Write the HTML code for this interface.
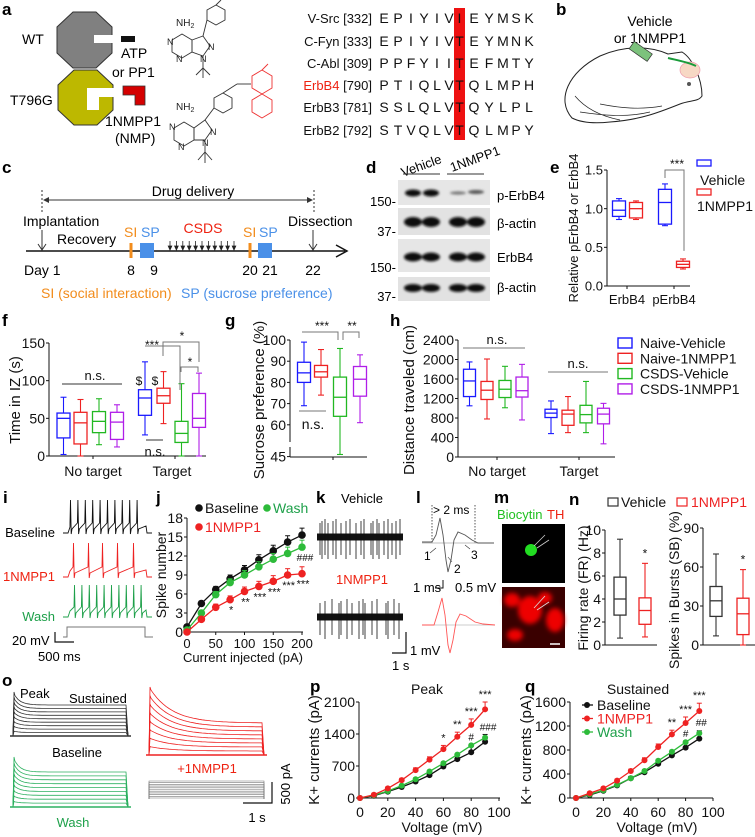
<!DOCTYPE html>
<html><head><meta charset="utf-8">
<style>
html,body{margin:0;padding:0;background:#fff;}
svg{display:block;font-family:"Liberation Sans",Arial,sans-serif;}
</style></head>
<body>
<svg id="fig" width="755" height="837" viewBox="0 0 755 837" xmlns="http://www.w3.org/2000/svg">
<defs>
<filter id="blur1" x="-20%" y="-50%" width="140%" height="200%"><feGaussianBlur stdDeviation="1.3"/></filter>
<filter id="blur2"><feGaussianBlur stdDeviation="2.5"/></filter>
</defs>
<g font-weight="bold" font-size="17">
<text x="2" y="15">a</text>
<text x="556" y="15">b</text>
<text x="2" y="173">c</text>
<text x="366" y="173">d</text>
<text x="550" y="173">e</text>
<text x="2" y="326">f</text>
<text x="225" y="326">g</text>
<text x="390" y="326">h</text>
<text x="3" y="503">i</text>
<text x="156" y="503">j</text>
<text x="316" y="503">k</text>
<text x="416" y="503">l</text>
<text x="494" y="503">m</text>
<text x="569" y="505">n</text>
<text x="2" y="686">o</text>
<text x="310" y="692">p</text>
<text x="525" y="692">q</text>
</g>

<!-- Panel a -->
<g font-size="14">
<text x="22" y="44">WT</text>
<polygon points="73,12 96,12 112,27 112,53 96,68 73,68 57,53 57,27" fill="#808080" stroke="#333" stroke-width="1"/>
<rect x="94" y="35" width="19" height="8" fill="#fff"/>
<rect x="121" y="36" width="14" height="6" fill="#111"/>
<text x="121" y="58">ATP</text>
<text x="112" y="77">or PP1</text>
<text x="10" y="105">T796G</text>
<polygon points="74,70 97,70 113,85 113,110 97,125 74,125 58,110 58,85" fill="#bdb800" stroke="#333" stroke-width="1"/>
<polygon points="87,88 114,88 114,97 99,97 99,110 87,110" fill="#fff"/>
<polygon points="123,86 145,86 145,105 135,105 135,95 123,95" fill="#d40000" stroke="#333" stroke-width="0.8"/>
<text x="105" y="126">1NMPP1</text>
<text x="115" y="143">(NMP)</text>
</g>
<g fill="none" stroke="#333" stroke-width="0.9">
<polygon points="216,5 225,10 225,20 216,25 207,20 207,10"/>
<line x1="216" y1="5" x2="221" y2="0"/>
<line x1="207" y1="20" x2="203" y2="36"/>
<polygon points="182,34 192,40 192,52 182,58 172,52 172,40"/>
<polygon points="192,40 203,36 210,46 203,56 192,52"/>
<line x1="203" y1="56" x2="203" y2="68"/><line x1="203" y1="68" x2="196" y2="75"/><line x1="203" y1="68" x2="210" y2="75"/><line x1="203" y1="68" x2="203" y2="78"/>
<polygon points="223,93 232,98 232,108 223,113 214,108 214,98"/>
<line x1="223" y1="93" x2="237" y2="84"/><line x1="237" y1="84" x2="251" y2="84"/>
<line x1="214" y1="108" x2="205" y2="120"/>
<polygon points="184,122 194,128 194,140 184,146 174,140 174,128"/>
<polygon points="194,128 205,120 212,130 205,140 194,140"/>
<line x1="205" y1="140" x2="205" y2="152"/><line x1="205" y1="152" x2="198" y2="160"/><line x1="205" y1="152" x2="212" y2="160"/><line x1="205" y1="152" x2="205" y2="163"/>
<g stroke="#e33">
<polygon points="262,70 272,76 272,88 262,94 252,88 252,76"/>
<polygon points="262,94 272,100 272,112 262,118 252,112 252,100"/>
<line x1="262" y1="70" x2="268" y2="64"/>
</g>
</g>
<g font-size="10" fill="#222">
<text x="176" y="26">NH<tspan font-size="7" dy="2">2</tspan></text>
<text x="176" y="110">NH<tspan font-size="7" dy="2">2</tspan></text>
<text x="167" y="45" font-size="9">N</text><text x="176" y="62" font-size="9">N</text><text x="208" y="50" font-size="9">N</text><text x="200" y="62" font-size="9">N</text>
<text x="169" y="130" font-size="9">N</text><text x="178" y="150" font-size="9">N</text><text x="210" y="135" font-size="9">N</text><text x="202" y="146" font-size="9">N</text>
</g>
<rect x="454" y="8" width="11" height="132" fill="#ee1111"/>
<g id="seq" font-size="14"></g>

<!-- Panel b -->
<g>
<text x="650" y="26" font-size="14" text-anchor="middle">Vehicle</text>
<text x="650" y="43" font-size="14" text-anchor="middle">or 1NMPP1</text>
<path d="M572,118 C556,100 568,72 600,56 C625,45 650,46 668,54 L682,52 C692,58 702,78 702,96 C698,102 690,100 680,104 C660,112 640,120 610,122 C592,124 580,122 572,118 Z" fill="none" stroke="#222" stroke-width="1"/>
<path d="M580,112 C600,115 625,118 650,112 M600,104 C620,108 640,110 662,106 M575,96 C585,108 600,116 620,120" fill="none" stroke="#222" stroke-width="0.7"/>
<rect x="630" y="47" width="22" height="9" transform="rotate(35 641 51)" fill="#7cc27c" stroke="#333" stroke-width="0.7"/>
<ellipse cx="690" cy="70" rx="10" ry="8" fill="#f7d8c4" stroke="#e9a" stroke-width="0.7"/>
<path d="M668,58 C676,60 688,62 696,66" stroke="#1a9b3a" stroke-width="2" fill="none"/>
<circle cx="689" cy="84" r="2" fill="#555"/>
</g>

<!-- Panel c -->
<g font-size="14">
<line x1="42" y1="190" x2="42" y2="212" stroke="#333" stroke-dasharray="2,2"/>
<line x1="314" y1="190" x2="314" y2="212" stroke="#333" stroke-dasharray="2,2"/>
<line x1="45" y1="200" x2="311" y2="200" stroke="#333" stroke-width="1"/>
<polygon points="43,200 49,197 49,203" fill="#333"/><polygon points="313,200 307,197 307,203" fill="#333"/>
<text x="193" y="196" text-anchor="middle">Drug delivery</text>
<text x="23" y="226">Implantation</text>
<text x="57" y="244">Recovery</text>
<text x="288" y="226">Dissection</text>
<line x1="42" y1="230" x2="42" y2="249" stroke="#333"/><path d="M38,244 L42,250 L46,244" fill="none" stroke="#333"/>
<line x1="313" y1="230" x2="313" y2="249" stroke="#333"/><path d="M309,244 L313,250 L317,244" fill="none" stroke="#333"/>
<line x1="26" y1="251" x2="345" y2="251" stroke="#111" stroke-width="1.5"/>
<path d="M336,245 L347,251 L336,257" fill="none" stroke="#111" stroke-width="1.5"/>
<rect x="129.5" y="243" width="3" height="15" fill="#f28c1c"/>
<rect x="140" y="243" width="14" height="15" fill="#4a90e8"/>
<rect x="248.5" y="243" width="3" height="15" fill="#f28c1c"/>
<rect x="258" y="243" width="14" height="15" fill="#4a90e8"/>
<text x="124" y="237" fill="#f28c1c">SI</text><text x="141" y="237" fill="#4a90e8">SP</text>
<text x="243" y="237" fill="#f28c1c">SI</text><text x="259" y="237" fill="#4a90e8">SP</text>
<text x="203" y="233" text-anchor="middle" fill="#e21">CSDS</text>
<g id="csdsArrows" stroke="#222" stroke-width="0.8" fill="#222"></g>
<text x="24" y="275">Day 1</text>
<text x="131" y="275" text-anchor="middle">8</text><text x="154" y="275" text-anchor="middle">9</text>
<text x="250" y="275" text-anchor="middle">20</text><text x="270" y="275" text-anchor="middle">21</text><text x="313" y="275" text-anchor="middle">22</text>
<text x="41" y="298" fill="#f28c1c">SI (social interaction)</text>
<text x="181" y="298" fill="#4a90e8">SP (sucrose preference)</text>
</g>

<!-- Panel d -->
<g font-size="13">
<text x="403" y="177" transform="rotate(-20 403 177)">Vehicle</text>
<text x="452" y="172" transform="rotate(-20 452 172)">1NMPP1</text>
<line x1="403" y1="174" x2="440" y2="174" stroke="#333"/><line x1="447" y1="174" x2="484" y2="174" stroke="#333"/>
<rect x="398" y="180" width="92" height="25" fill="#e6e6e6"/>
<rect x="398" y="208" width="92" height="27" fill="#e2e2e2"/>
<rect x="398" y="239" width="92" height="33" fill="#e6e6e6"/>
<rect x="398" y="277" width="92" height="24" fill="#e2e2e2"/>
<g fill="#111" filter="url(#blur1)">
<ellipse cx="413" cy="193" rx="8" ry="3.5"/><ellipse cx="431" cy="193" rx="8" ry="3.5"/>
<ellipse cx="458" cy="193" rx="8" ry="1.6" fill="#777"/><ellipse cx="476" cy="192" rx="8" ry="2" fill="#555"/>
<ellipse cx="413" cy="222" rx="9" ry="5"/><ellipse cx="431" cy="222" rx="9" ry="5"/><ellipse cx="458" cy="222" rx="9" ry="5"/><ellipse cx="476" cy="222" rx="9" ry="5"/>
<ellipse cx="413" cy="257" rx="9" ry="4.5"/><ellipse cx="431" cy="257" rx="9" ry="4.5"/><ellipse cx="458" cy="257" rx="9" ry="4.5"/><ellipse cx="476" cy="257" rx="9" ry="4.5"/>
<ellipse cx="413" cy="288" rx="9" ry="4"/><ellipse cx="431" cy="288" rx="9" ry="4"/><ellipse cx="458" cy="288" rx="9" ry="4"/><ellipse cx="476" cy="288" rx="9" ry="4"/>
</g>
<text x="497" y="200">p-ErbB4</text><text x="497" y="228">β-actin</text><text x="497" y="262">ErbB4</text><text x="497" y="292">β-actin</text>
<text x="396" y="206" text-anchor="end">150-</text><text x="396" y="236" text-anchor="end">37-</text>
<text x="396" y="272" text-anchor="end">150-</text><text x="396" y="301" text-anchor="end">37-</text>
</g>

<!-- Panel i -->
<g font-size="13">
<text x="55" y="537" text-anchor="end">Baseline</text>
<text x="55" y="581" text-anchor="end" fill="#e21">1NMPP1</text>
<text x="55" y="621" text-anchor="end" fill="#1ea04a">Wash</text>
<g id="itr" fill="none" stroke-width="0.9"></g>
<path d="M63,637 L67,637 L67,627 L145,627 L145,637 L153,637" fill="none" stroke="#777"/>
<path d="M55,632 L55,642 L74,642" fill="none" stroke="#111" stroke-width="1.2"/>
<text x="12" y="645">20 mV</text><text x="38" y="661">500 ms</text>
</g>

<!-- Panel k -->
<g font-size="13">
<text x="362" y="503" text-anchor="middle">Vehicle</text>
<text x="362" y="584" text-anchor="middle" fill="#e21">1NMPP1</text>
<g id="ktr" stroke="#111" stroke-width="0.8"></g>
<path d="M406,632 L406,653 L392,653" fill="none" stroke="#111" stroke-width="1.2"/>
<text x="410" y="655">1 mV</text><text x="392" y="670">1 s</text>
</g>

<!-- Panel l -->
<g font-size="12">
<line x1="432" y1="505" x2="432" y2="543" stroke="#555" stroke-dasharray="1.5,1.5"/>
<line x1="475" y1="505" x2="475" y2="543" stroke="#555" stroke-dasharray="1.5,1.5"/>
<text x="433" y="514" font-size="12">&gt; 2 ms</text>
<line x1="422" y1="543" x2="494" y2="543" stroke="#aaa" stroke-width="0.7"/>
<path d="M422,542 L432,542 L436,535 L440,518 L443,535 L446,560 L448,572 L451,560 L454,540 L458,532 L465,535 L472,540 L478,543 L494,543" fill="none" stroke="#555" stroke-width="0.9"/>
<text x="424" y="560">1</text><text x="454" y="573">2</text><text x="471" y="559">3</text>
<path d="M430,553 L436,548 M452,562 L448,557 M470,549 L465,545" stroke="#333" stroke-width="0.6"/>
<text x="413" y="592" font-size="13">1 ms</text>
<path d="M435,588 L443,588 L443,580" fill="none" stroke="#111"/>
<text x="455" y="592" font-size="13">0.5 mV</text>
<line x1="422" y1="625" x2="495" y2="625" stroke="#999" stroke-width="0.6"/>
<path d="M422,625 L434,625 L438,612 L442,598 L445,615 L448,645 L450,653 L453,640 L456,622 L460,614 L466,616 L475,622 L483,624 L495,625" fill="none" stroke="#f55" stroke-width="0.9"/>
</g>

<!-- Panel m -->
<g>
<text x="497" y="519" font-size="13" fill="#1fc01f">Biocytin</text><text x="547" y="519" font-size="13" fill="#e21">TH</text>
<rect x="502" y="524" width="63" height="59" fill="#000"/>
<circle cx="531" cy="550" r="6" fill="#22dd22"/><path d="M525,551 L535,546 L532,556 Z" fill="#22dd22"/>
<path d="M534,546 L545,535 M537,548 L549,540" stroke="#ccc" stroke-width="0.8"/>
<rect x="502" y="587" width="63" height="61" fill="#3a0000"/>
<g fill="#e00" filter="url(#blur2)">
<ellipse cx="530" cy="610" rx="12" ry="14"/><ellipse cx="512" cy="600" rx="8" ry="7"/><ellipse cx="555" cy="620" rx="9" ry="12"/><ellipse cx="515" cy="635" rx="8" ry="6"/><ellipse cx="545" cy="598" rx="7" ry="6"/>
</g>
<path d="M534,608 L545,596 M537,610 L549,602" stroke="#ddd" stroke-width="0.8"/>
<line x1="550" y1="644" x2="560" y2="644" stroke="#fff" stroke-width="1.5"/>
</g>

<!-- Panel o -->
<g font-size="13">
<text x="20" y="698">Peak</text><text x="69" y="703">Sustained</text>
<text x="77" y="757" text-anchor="middle">Baseline</text>
<text x="73" y="827" text-anchor="middle" fill="#1ea04a">Wash</text>
<text x="207" y="773" text-anchor="middle" fill="#e21">+1NMPP1</text>
<g id="otr" fill="none" stroke-width="0.8"></g>
<path d="M272,782 L272,803 L243,803" fill="none" stroke="#111" stroke-width="1.2"/>
<text x="290" y="784" text-anchor="middle" transform="rotate(-90 290 784)">500 pA</text>
<text x="257" y="822" text-anchor="middle">1 s</text>
</g>

<g id="charts"></g>
</svg>

<script>
// ---------- chart data ----------
// e
const eCats = ['ErbB4', 'pErbB4'];
const eMin = [0.86, 0.86, 0.78, 0.22];
const eQ1 = [0.9, 0.88, 0.8, 0.24];
const eMed = [0.98, 1.0, 1.08, 0.28];
const eQ3 = [1.1, 1.08, 1.25, 0.32];
const eMax = [1.13, 1.1, 1.32, 0.35];
const eTicks = [0, 0.5, 1.0, 1.5];
const eTickLabels = ['0.0', '0.5', '1.0', '1.5'];
// f
const fGroups = ['No target', 'Target'];
const fMin = [2, 0, 15, 12, 28, 43, 0, 0];
const fQ1 = [24, 16, 31, 22, 54, 70, 18, 38];
const fMed = [50, 44, 46, 45, 77, 80, 30, 50];
const fQ3 = [57, 58, 59, 58, 88, 90, 46, 83];
const fMax = [78, 75, 76, 68, 125, 112, 96, 110];
const fTicks = [0, 50, 100, 150];
// g
const gMin = [69, 74, 46, 61];
const gQ1 = [80, 82.5, 64, 73.5];
const gMed = [84.5, 85, 73, 81.5];
const gQ3 = [89.5, 88, 82.5, 87.5];
const gMax = [99, 95.5, 96, 93];
const gTicks = [45, 60, 70, 80, 90, 100];
// h
const hMin = [1050, 780, 1010, 760, 480, 500, 500, 270];
const hQ1 = [1240, 1180, 1220, 1230, 810, 650, 700, 680];
const hMed = [1560, 1370, 1390, 1360, 900, 880, 870, 880];
const hQ3 = [1800, 1550, 1570, 1640, 980, 960, 1060, 1000];
const hMax = [1950, 2010, 1860, 1900, 1150, 1240, 1550, 1100];
const hTicks = [0, 400, 800, 1200, 1600, 2000, 2400];
const legendNames = ['Naive-Vehicle', 'Naive-1NMPP1', 'CSDS-Vehicle', 'CSDS-1NMPP1'];
// j
const jCurrent = [0, 25, 50, 75, 100, 125, 150, 175, 200];
const jBaseline = [0.8, 4.5, 6.7, 8.4, 9.8, 11.4, 12.8, 14.2, 15.3];
const jWash = [0.3, 3.0, 5.9, 7.8, 9.0, 10.3, 11.5, 12.4, 13.4];
const jNmpp1 = [0, 2.0, 3.9, 5.1, 6.4, 7.2, 8.0, 9.0, 9.2];
const jErr = [0.2, 0.4, 0.5, 0.6, 0.7, 0.8, 0.9, 1.0, 1.1];
const jTicksY = [0, 3, 6, 9, 12, 15, 18];
const jTicksX = [0, 50, 100, 150, 200];
// n
const nFrMin = [0.6, 0.7], nFrQ1 = [2.6, 1.8], nFrMed = [4.0, 3.0], nFrQ3 = [5.9, 4.1], nFrMax = [9.2, 7.1];
const nSbMin = [7, 0], nSbQ1 = [22, 8], nSbMed = [34, 24], nSbQ3 = [45, 36], nSbMax = [70, 58];
const nFrTicks = [0, 2, 4, 6, 8, 10];
const nSbTicks = [0, 30, 60, 90];
// p
const pVolt = [0, 10, 20, 30, 40, 50, 60, 70, 80, 90];
const pBaseline = [0, 50, 140, 240, 360, 500, 690, 850, 1000, 1230];
const pNmpp1 = [0, 70, 210, 390, 610, 840, 1070, 1340, 1600, 1940];
const pWash = [0, 60, 150, 270, 410, 580, 760, 950, 1150, 1320];
const pErr = [0, 20, 30, 40, 50, 60, 80, 100, 130, 160];
const pTicksY = [0, 700, 1400, 2100];
// q
const qBaseline = [0, 50, 120, 210, 330, 430, 570, 710, 840, 990];
const qNmpp1 = [0, 80, 160, 290, 450, 630, 850, 1060, 1250, 1450];
const qWash = [0, 60, 130, 220, 330, 450, 620, 770, 930, 1080];
const qErr = [0, 15, 20, 25, 30, 40, 50, 70, 100, 130];
const qTicksY = [0, 400, 800, 1200, 1600];
const vTicksX = [0, 20, 40, 60, 80, 100];

const NS = 'http://www.w3.org/2000/svg';
const root = document.getElementById('charts');
function el(tag, attrs, name, parent) {
  const e = document.createElementNS(NS, tag);
  for (const k in attrs) e.setAttribute(k, attrs[k]);
  
  
  (parent || root).appendChild(e);
  return e;
}
function txt(x, y, s, size, anchor, fill, name, rot, parent) {
  const a = {x: x, y: y, 'font-size': size, 'text-anchor': anchor || 'start', fill: fill || '#111'};
  if (rot) a.transform = 'rotate(' + rot + ' ' + x + ' ' + y + ')';
  const t = el('text', a, name, parent);
  t.textContent = s;
  return t;
}
function line(x1, y1, x2, y2, stroke, w, name, dash) {
  const a = {x1: x1, y1: y1, x2: x2, y2: y2, stroke: stroke || '#111', 'stroke-width': w || 1};
  if (dash) a['stroke-dasharray'] = dash;
  return el('line', a, name);
}
function yAxis(x, yTop, yBot, ticks, yf, labels, size, name) {
  line(x, yTop, x, yBot, '#111', 1, name + '-line');
  ticks.forEach((t, i) => {
    line(x - 3, yf(t), x, yf(t), '#111', 1, name + '-tick');
    txt(x - 4, yf(t) + size * 0.36, labels ? labels[i] : String(t), size, 'end', '#111', name + '-label');
  });
}
function box(cx, w, mn, q1, md, q3, mx, yf, color, name) {
  line(cx, yf(mx), cx, yf(q3), color, 1.1, name + '-whisker-top');
  line(cx, yf(q1), cx, yf(mn), color, 1.1, name + '-whisker-bottom');
  line(cx - 3, yf(mx), cx + 3, yf(mx), color, 1.1, name + '-cap-top');
  line(cx - 3, yf(mn), cx + 3, yf(mn), color, 1.1, name + '-cap-bottom');
  el('rect', {x: cx - w / 2, y: yf(q3), width: w, height: yf(q1) - yf(q3), fill: 'none', stroke: color, 'stroke-width': 1.3}, name);
  line(cx - w / 2, yf(md), cx + w / 2, yf(md), color, 1.3, name + '-median');
}
const COLS = ['#1a1aff', '#ee2222', '#22b822', '#b01ee8'];

// sequence alignment
(function () {
  const g = document.getElementById('seq');
  const names = ['V-Src [332]', 'C-Fyn [333]', 'C-Abl [309]', 'ErbB4 [790]', 'ErbB3 [781]', 'ErbB2 [792]'];
  const seqs = ['EPIYIVIEYMSK', 'EPIYIVTEYMNK', 'PPFYIITEFMTY', 'PTIQLVTQLMPH', 'SSLQLVTQYLPL', 'STVQLVTQLMPY'];
  const ys = [23, 46, 68, 90, 112, 135];
  const xx = [384, 398, 411, 424, 437, 449, 459.5, 474, 489, 503, 516, 529];
  names.forEach((n, i) => {
    const t = txt(372, ys[i], '', 13, 'end', '#111', 'sequence-name', 0, g);
    const p = n.split(' ');
    const s1 = document.createElementNS(NS, 'tspan');
    s1.textContent = p[0];
    if (i === 3) s1.setAttribute('fill', '#e21');
    t.appendChild(s1);
    t.appendChild(document.createTextNode(' ' + p[1]));
    const row = seqs[i];
    for (let k = 0; k < row.length; k++) {
      txt(xx[k], ys[i], row[k], 14, 'middle', '#111', 'residue', 0, g);
    }
  });
})();
// CSDS arrows
(function () {
  const g = document.getElementById('csdsArrows');
  for (let i = 0; i < 11; i++) {
    const x = 170 + i * 6.4;
    el('line', {x1: x, y1: 241, x2: x, y2: 249}, 'csds-arrow', g);
    el('path', {d: 'M' + (x - 1.8) + ',246 L' + x + ',250 L' + (x + 1.8) + ',246 Z'}, 'csds-arrowhead', g);
  }
})();
// i traces
(function () {
  const g = document.getElementById('itr');
  function train(base, top, spikes, color, name) {
    let d = 'M63,' + base + ' L68,' + base + ' L70,' + (base - 6);
    spikes.forEach(sx => {
      d += ' L' + sx + ',' + (base - 10) + ' L' + (sx + 0.5) + ',' + top + ' L' + (sx + 1.2) + ',' + (base + 1) + ' L' + (sx + 2) + ',' + (base - 4);
    });
    d += ' L146,' + (base - 7) + ' L147,' + base + ' L152,' + base;
    el('path', {d: d, stroke: color}, name, g);
  }
  const bs = [], gs = [];
  for (let i = 0; i < 10; i++) { bs.push(70 + i * 7.4); gs.push(74 + i * 7.4); }
  train(533, 500, bs, '#111', 'baseline-spike-train');
  train(577, 543, [73, 88, 102, 117, 133], '#ee2222', 'nmpp1-spike-train');
  train(617, 585, gs, '#1ea04a', 'wash-spike-train');
})();
// k traces
(function () {
  const g = document.getElementById('ktr');
  function tr(cy, xs, name) {
    el('rect', {x: 317, y: cy - 3.5, width: 86, height: 7, fill: '#111', stroke: 'none'}, name + '-noise', g);
    xs.forEach((x, i) => {
      el('line', {x1: x, y1: cy - 14 - (i % 3) * 2, x2: x, y2: cy + 18 + (i % 2) * 4}, name + '-spike', g);
    });
  }
  const a = [320, 322, 325, 328, 333, 336, 341, 346, 350, 356, 361, 364, 371, 373, 377, 379, 384, 388, 392, 396, 400];
  const b = [320, 325, 332, 339, 341, 347, 352, 359, 363, 365, 372, 377, 386, 388, 394, 399];
  tr(537, a, 'vehicle-trace');
  tr(617, b, 'nmpp1-trace');
})();
// o traces
(function () {
  const g = document.getElementById('otr');
  function fam(x0, x1, bot, peakTop, susTop, n, tau, color, name) {
    for (let i = 0; i < n; i++) {
      const f = (i + 1) / n;
      const pk = bot - (bot - peakTop) * f, su = bot - (bot - susTop) * f;
      let d = 'M' + x0 + ',' + bot + ' L' + (x0 + 1) + ',' + pk;
      for (let x = x0 + 2; x <= x1; x += 3) {
        const y = su + (pk - su) * Math.exp(-(x - x0) / tau);
        d += ' L' + x + ',' + y.toFixed(1);
      }
      d += ' L' + x1 + ',' + bot;
      el('path', {d: d, stroke: color}, name, g);
    }
    el('line', {x1: x0 - 3, y1: bot, x2: x1 + 3, y2: bot, stroke: color, 'stroke-width': 1.5}, name + '-zero', g);
  }
  fam(13, 128, 736, 692, 705, 9, 6, '#333', 'baseline-current-trace');
  fam(13, 128, 807, 757, 772, 9, 6, '#2db060', 'wash-current-trace');
  fam(149, 264, 755, 687, 723, 8, 22, '#ee2222', 'nmpp1-current-trace');
  for (let i = 0; i < 11; i++) {
    const y = 798 - i * 1.7;
    el('path', {d: 'M149,799 L149,' + (y) + ' L264,' + y + ' L264,799', stroke: '#777', 'stroke-width': 0.6}, 'voltage-step', g);
  }
})();

// ---------- e chart ----------
(function () {
  const y = v => 286 - v * (116 / 1.5);
  const cx = [619, 636, 665, 683];
  yAxis(607, 170, 286, eTicks, y, eTickLabels, 13, 'e-y-axis');
  line(607, 286, 690, 286, '#111', 1, 'e-x-axis');
  [627, 674].forEach(x => line(x, 286, x, 289, '#111', 1, 'e-x-tick'));
  eCats.forEach((c, i) => txt([627, 674][i], 304, c, 13, 'middle', '#111', 'e-x-label'));
  for (let i = 0; i < 4; i++) box(cx[i], 13, eMin[i], eQ1[i], eMed[i], eQ3[i], eMax[i], y, COLS[i % 2], 'e-box');
  txt(578, 228, 'Relative pErbB4 or ErbB4', 13, 'middle', '#111', 'e-y-title', -90);
  el('path', {d: 'M665,178 L665,170 L684,170 L684,' + (y(eMax[3]) - 8), fill: 'none', stroke: '#777', 'stroke-width': 1}, 'e-sig-bracket');
  txt(677, 168, '***', 12, 'middle', '#111', 'e-sig-label');
  el('rect', {x: 697, y: 160, width: 14, height: 6, fill: 'none', stroke: COLS[0], 'stroke-width': 1.3}, 'e-legend-swatch-vehicle');
  txt(700, 185, 'Vehicle', 14, 'start', '#111', 'e-legend-vehicle');
  el('rect', {x: 697, y: 189, width: 14, height: 6, fill: 'none', stroke: COLS[1], 'stroke-width': 1.3}, 'e-legend-swatch-nmpp1');
  txt(697, 211, '1NMPP1', 14, 'start', '#111', 'e-legend-nmpp1');
})();

// ---------- f chart ----------
(function () {
  const y = v => 456 - v * (113 / 150);
  const cx = [63.5, 80.5, 99, 117, 145, 163.5, 181.5, 199];
  yAxis(49, 343, 456, fTicks, y, null, 14, 'f-y-axis');
  line(49, 456, 206, 456, '#111', 1, 'f-x-axis');
  [93, 175].forEach(x => line(x, 456, x, 459, '#111', 1, 'f-x-tick'));
  fGroups.forEach((g, i) => txt([93, 172][i], 476, g, 14, 'middle', '#111', 'f-x-label'));
  for (let i = 0; i < 8; i++) box(cx[i], 13, fMin[i], fQ1[i], fMed[i], fQ3[i], fMax[i], y, COLS[i % 4], 'f-box');
  txt(20, 400, 'Time in IZ (s)', 15, 'middle', '#111', 'f-y-title', -90);
  line(62, 384, 122, 384, '#999', 2, 'f-ns-line');
  txt(95, 380, 'n.s.', 13, 'middle', '#111', 'f-ns-label');
  el('path', {d: 'M145,346 L180,346 L180,390', fill: 'none', stroke: '#777'}, 'f-sig-1');
  txt(152, 349, '***', 12, 'middle', '#111', 'f-sig-1-label');
  el('path', {d: 'M163,356 L163,342 L199,342 L199,362', fill: 'none', stroke: '#777'}, 'f-sig-2');
  txt(182, 340, '*', 12, 'middle', '#111', 'f-sig-2-label');
  el('path', {d: 'M181,372 L181,367 L198,367 L198,372', fill: 'none', stroke: '#777'}, 'f-sig-3');
  txt(190, 366, '*', 12, 'middle', '#111', 'f-sig-3-label');
  line(146, 440, 163, 440, '#999', 2, 'f-ns-line-2');
  txt(155, 456, 'n.s.', 13, 'middle', '#111', 'f-ns-label-2');
  txt(139, 385, '$', 12, 'middle', '#111', 'f-dollar');
  txt(155, 385, '$', 12, 'middle', '#111', 'f-dollar');
})();

// ---------- g chart ----------
(function () {
  const y = v => 340 + (100 - v) * 2.12;
  const cx = [304, 321, 340, 360];
  line(290, 340, 290, 442, '#111', 1, 'g-y-axis-line');
  line(290, 447, 290, 457, '#111', 1, 'g-y-axis-line');
  gTicks.forEach(t => {
    line(287, y(t), 290, y(t), '#111', 1, 'g-y-tick');
    txt(286, y(t) + 5, String(t), 14, 'end', '#111', 'g-y-label');
  });
  line(290, 457, 367, 457, '#111', 1, 'g-x-axis');
  line(333, 457, 333, 460, '#111', 1, 'g-x-tick');
  for (let i = 0; i < 4; i++) box(cx[i], 13, gMin[i], gQ1[i], gMed[i], gQ3[i], gMax[i], y, COLS[i], 'g-box');
  txt(264, 400, 'Sucrose preference (%)', 15, 'middle', '#111', 'g-y-title', -90);
  el('path', {d: 'M302,332 L338,332 L338,340 M343,340 L343,332 L359,332 L359,338', fill: 'none', stroke: '#777'}, 'g-sig-lines');
  txt(322, 330, '***', 12, 'middle', '#111', 'g-sig-1');
  txt(352, 330, '**', 12, 'middle', '#111', 'g-sig-2');
  line(299, 411, 326, 411, '#777', 1, 'g-ns-line');
  txt(313, 429, 'n.s.', 14, 'middle', '#111', 'g-ns-label');
})();

// ---------- h chart ----------
(function () {
  const y = v => 457 - v * (117 / 2400);
  const cx = [469.5, 487, 505, 522, 551, 568, 586, 603.5];
  yAxis(458, 340, 457, hTicks, y, null, 14, 'h-y-axis');
  line(458, 457, 615, 457, '#111', 1, 'h-x-axis');
  [497, 579].forEach(x => line(x, 457, x, 460, '#111', 1, 'h-x-tick'));
  fGroups.forEach((g, i) => txt([497, 579][i], 476, g, 14, 'middle', '#111', 'h-x-label'));
  for (let i = 0; i < 8; i++) box(cx[i], 12, hMin[i], hQ1[i], hMed[i], hQ3[i], hMax[i], y, COLS[i % 4], 'h-box');
  txt(414, 400, 'Distance traveled (cm)', 15, 'middle', '#111', 'h-y-title', -90);
  line(463, 348, 525, 348, '#777', 1, 'h-ns-line-1');
  txt(497, 344, 'n.s.', 13, 'middle', '#111', 'h-ns-label-1');
  line(548, 372, 608, 372, '#777', 1, 'h-ns-line-2');
  txt(578, 368, 'n.s.', 13, 'middle', '#111', 'h-ns-label-2');
  legendNames.forEach((n, i) => {
    const yy = 343 + i * 15.3;
    el('rect', {x: 618, y: yy - 5, width: 14, height: 10, fill: 'none', stroke: COLS[i], 'stroke-width': 1.4}, 'legend-swatch');
    txt(640, yy + 5, n, 14, 'start', '#111', 'legend-entry');
  });
})();

// ---------- line charts ----------
function series(xs, ys, errs, xf, yf, color, r, name) {
  let d = '';
  xs.forEach((x, i) => { d += (i ? ' L' : 'M') + xf(x) + ',' + yf(ys[i]); });
  el('path', {d: d, fill: 'none', stroke: color, 'stroke-width': 1.3}, name + '-line');
  xs.forEach((x, i) => {
    if (errs) {
      const top = yf(ys[i]) - Math.abs(yf(ys[i] + errs[i]) - yf(ys[i]));
      line(xf(x), yf(ys[i]), xf(x), top, color, 1, name + '-errorbar');
      line(xf(x) - 2.5, top, xf(x) + 2.5, top, color, 1, name + '-errorcap');
    }
    el('circle', {cx: xf(x), cy: yf(ys[i]), r: r, fill: color}, name + '-point');
  });
}
// j
(function () {
  const xf = v => 187 + v * (115 / 200);
  const yf = v => 632 - v * (114 / 18);
  yAxis(187, 518, 632, jTicksY, yf, null, 14, 'j-y-axis');
  line(187, 632, 303, 632, '#111', 1, 'j-x-axis');
  jTicksX.forEach(t => {
    line(xf(t), 632, xf(t), 635, '#111', 1, 'j-x-tick');
    txt(xf(t), 648, String(t), 13, 'middle', '#111', 'j-x-label');
  });
  txt(243, 662, 'Current injected (pA)', 13, 'middle', '#111', 'j-x-title');
  txt(166, 575, 'Spike number', 14, 'middle', '#111', 'j-y-title', -90);
  series(jCurrent, jBaseline, jErr, xf, yf, '#111', 3.8, 'j-baseline');
  series(jCurrent, jWash, jErr, xf, yf, '#2dbb3a', 3.8, 'j-wash');
  series(jCurrent, jNmpp1, jErr, xf, yf, '#ee2222', 3.8, 'j-nmpp1');
  el('circle', {cx: 199, cy: 508, r: 3.8, fill: '#111'}, 'j-legend-dot-baseline');
  txt(205, 513, 'Baseline', 14, 'start', '#111', 'j-legend-baseline');
  el('circle', {cx: 267, cy: 508, r: 3.8, fill: '#2dbb3a'}, 'j-legend-dot-wash');
  txt(273, 513, 'Wash', 14, 'start', '#1ea04a', 'j-legend-wash');
  el('circle', {cx: 199, cy: 527, r: 3.8, fill: '#ee2222'}, 'j-legend-dot-nmpp1');
  txt(205, 532, '1NMPP1', 14, 'start', '#ee2222', 'j-legend-nmpp1');
  const sig = ['*', '**', '***', '***', '***', '***'];
  sig.forEach((s, k) => {
    const i = k + 3;
    txt(xf(jCurrent[i]) + 1, yf(jNmpp1[i]) + 14, s, 11, 'middle', '#111', 'j-sig');
  });
  txt(xf(150), yf(jWash[6]) - 6, '#', 10, 'middle', '#111', 'j-sig-hash');
  txt(xf(200) + 3, yf(jWash[8]) + 14, '###', 10, 'middle', '#111', 'j-sig-hash');
})();
// n
(function () {
  const y1 = v => 645 - v * 11.5;
  const y2 = v => 645 - v * (117 / 90);
  yAxis(605, 530, 645, nFrTicks, y1, null, 14, 'n-fr-y-axis');
  line(605, 645, 657, 645, '#111', 1, 'n-fr-x-axis');
  box(620, 12, nFrMin[0], nFrQ1[0], nFrMed[0], nFrQ3[0], nFrMax[0], y1, '#333', 'n-fr-box-vehicle');
  box(645, 12, nFrMin[1], nFrQ1[1], nFrMed[1], nFrQ3[1], nFrMax[1], y1, '#ee2222', 'n-fr-box-nmpp1');
  txt(645, y1(nFrMax[1]) - 6, '*', 12, 'middle', '#111', 'n-fr-sig');
  txt(588, 588, 'Firing rate (FR) (Hz)', 14, 'middle', '#111', 'n-fr-y-title', -90);
  yAxis(703, 528, 645, nSbTicks, y2, null, 14, 'n-sb-y-axis');
  line(703, 645, 755, 645, '#111', 1, 'n-sb-x-axis');
  box(716, 12, nSbMin[0], nSbQ1[0], nSbMed[0], nSbQ3[0], nSbMax[0], y2, '#333', 'n-sb-box-vehicle');
  box(743, 12, nSbMin[1], nSbQ1[1], nSbMed[1], nSbQ3[1], nSbMax[1], y2, '#ee2222', 'n-sb-box-nmpp1');
  txt(743, y2(nSbMax[1]) - 6, '*', 12, 'middle', '#111', 'n-sb-sig');
  txt(679, 590, 'Spikes in Bursts (SB) (%)', 14, 'middle', '#111', 'n-sb-y-title', -90);
  el('rect', {x: 608, y: 498, width: 10, height: 8, fill: 'none', stroke: '#333', 'stroke-width': 1.2}, 'n-legend-swatch-vehicle');
  txt(621, 507, 'Vehicle', 14, 'start', '#111', 'n-legend-vehicle');
  el('rect', {x: 677, y: 498, width: 10, height: 8, fill: 'none', stroke: '#ee2222', 'stroke-width': 1.2}, 'n-legend-swatch-nmpp1');
  txt(691, 507, '1NMPP1', 14, 'start', '#ee2222', 'n-legend-nmpp1');
})();
// p
(function () {
  const xf = v => 360 + v * 1.39;
  const yf = v => 798 - v * (96 / 2100);
  yAxis(359, 702, 798, pTicksY, yf, null, 14, 'p-y-axis');
  line(359, 798, 500, 798, '#111', 1, 'p-x-axis');
  vTicksX.forEach(t => {
    line(xf(t), 798, xf(t), 801, '#111', 1, 'p-x-tick');
    txt(xf(t), 817, String(t), 14, 'middle', '#111', 'p-x-label');
  });
  txt(442, 832, 'Voltage (mV)', 14, 'middle', '#111', 'p-x-title');
  txt(319, 750, 'K+ currents (pA)', 15, 'middle', '#111', 'p-y-title', -90);
  txt(427, 694, 'Peak', 14, 'middle', '#111', 'p-title');
  series(pVolt, pBaseline, pErr, xf, yf, '#111', 3, 'p-baseline');
  series(pVolt, pWash, null, xf, yf, '#2dbb3a', 3, 'p-wash');
  series(pVolt, pNmpp1, pErr, xf, yf, '#ee2222', 3, 'p-nmpp1');
  ['*', '**', '***', '***'].forEach((s, k) => {
    const i = k + 6;
    txt(xf(pVolt[i]), yf(pNmpp1[i] + pErr[i]) - 4, s, 11, 'middle', '#111', 'p-sig');
  });
  txt(xf(80), yf(pWash[8]) - 5, '#', 10, 'middle', '#111', 'p-sig-hash');
  txt(xf(90) + 3, yf(pWash[9]) - 7, '###', 10, 'middle', '#111', 'p-sig-hash');
})();
// q
(function () {
  const xf = v => 576 + v * 1.37;
  const yf = v => 798 - v * (96 / 1600);
  yAxis(570, 702, 798, qTicksY, yf, null, 14, 'q-y-axis');
  line(570, 798, 713, 798, '#111', 1, 'q-x-axis');
  vTicksX.forEach(t => {
    line(xf(t), 798, xf(t), 801, '#111', 1, 'q-x-tick');
    txt(xf(t), 817, String(t), 14, 'middle', '#111', 'q-x-label');
  });
  txt(657, 832, 'Voltage (mV)', 14, 'middle', '#111', 'q-x-title');
  txt(531, 750, 'K+ currents (pA)', 15, 'middle', '#111', 'q-y-title', -90);
  txt(638, 694, 'Sustained', 14, 'middle', '#111', 'q-title');
  series(pVolt, qBaseline, qErr, xf, yf, '#111', 3, 'q-baseline');
  series(pVolt, qWash, null, xf, yf, '#2dbb3a', 3, 'q-wash');
  series(pVolt, qNmpp1, qErr, xf, yf, '#ee2222', 3, 'q-nmpp1');
  ['**', '***', '***'].forEach((s, k) => {
    const i = k + 7;
    txt(xf(pVolt[i]), yf(qNmpp1[i] + qErr[i]) - 4, s, 11, 'middle', '#111', 'q-sig');
  });
  txt(xf(80), yf(qWash[8]) - 5, '#', 10, 'middle', '#111', 'q-sig-hash');
  txt(xf(90) + 2, yf(qWash[9]) - 7, '##', 10, 'middle', '#111', 'q-sig-hash');
  const leg = [['Baseline', '#111', '#111'], ['1NMPP1', '#ee2222', '#ee2222'], ['Wash', '#2dbb3a', '#1ea04a']];
  leg.forEach((l, i) => {
    const yy = 705 + i * 13.5;
    line(582, yy, 593, yy, l[1], 1.3, 'q-legend-line');
    el('circle', {cx: 587, cy: yy, r: 3, fill: l[1]}, 'q-legend-dot');
    txt(597, yy + 5, l[0], 14, 'start', l[2], 'q-legend-entry');
  });
})();
</script>
</body></html>
